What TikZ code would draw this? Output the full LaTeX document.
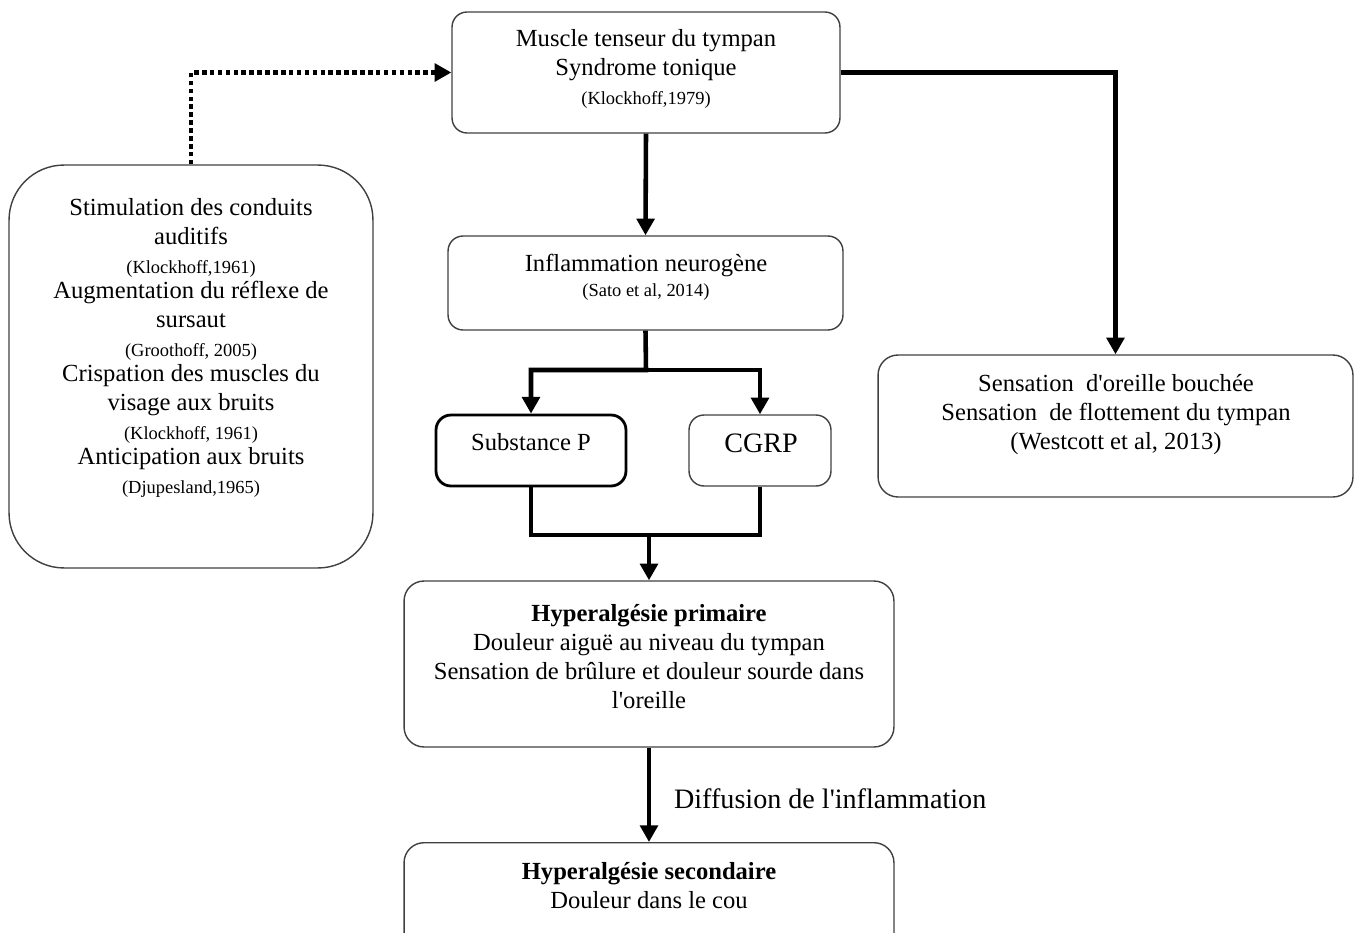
\documentclass[tikz,border=0pt]{standalone}
\usepackage{fontspec}
\setmainfont{Liberation Serif}
\usetikzlibrary{arrows.meta}
\newcommand{\cit}[1]{{\fontsize{10.5}{12}\selectfont #1}}
\newcommand{\apos}{\textquotesingle}
\tikzset{
  box/.style={draw=black!75, line width=0.8pt, rounded corners=0.3cm},
  txt/.style={align=center, inner sep=0pt, font=\fontsize{14}{16.5}\selectfont},
  flow/.style={line width=2.6pt, -{Triangle[width=10pt,length=9.5pt]}},
  link/.style={line width=2.6pt},
  dotflow/.style={flow, dash pattern=on 2.6pt off 1.9pt},
}
\begin{document}
\begin{tikzpicture}[x=0.02cm, y=-0.02cm]
% page frame
\path[use as bounding box, clip] (0,0) rectangle (1356,933);

% boxes
\node[box, minimum width=7.76cm, minimum height=2.42cm] (muscle) at (646,72.5) {};
\node[box, rounded corners=1.1cm, minimum width=7.28cm, minimum height=8.06cm] (stim) at (191,366.5) {};
\node[box, minimum width=7.9cm, minimum height=1.88cm] (inflam) at (645.5,283) {};
\node[box, draw=black, line width=1.6pt, minimum width=3.8cm, minimum height=1.42cm] (subp) at (531,450.5) {};
\node[box, minimum width=2.84cm, minimum height=1.42cm] (cgrp) at (760,450.5) {};
\node[box, rounded corners=0.4cm, minimum width=9.5cm, minimum height=2.84cm] (sens) at (1115.5,426) {};
\node[box, rounded corners=0.4cm, minimum width=9.8cm, minimum height=3.32cm] (prim) at (649,664) {};
\node[box, rounded corners=0.4cm, minimum width=9.8cm, minimum height=2.4cm, anchor=north] (sec) at (649,842) {};

% texts
\node[txt] (muscleT) at (646,69) {Muscle tenseur du tympan\\ Syndrome tonique\\ \cit{(Klockhoff,1979)}};
\node[txt] (stimT) at (191,348) {Stimulation des conduits\\ auditifs\\ \cit{(Klockhoff,1961)}\\[-2.3pt]
  Augmentation du réflexe de\\ sursaut\\ \cit{(Groothoff, 2005)}\\[-2.3pt]
  Crispation des muscles du\\ visage aux bruits\\ \cit{(Klockhoff, 1961)}\\[-2.3pt]
  Anticipation aux bruits\\ \cit{(Djupesland,1965)}};
\node[txt] (inflamT) at (646,277) {Inflammation neurogène\\[-2.3pt] \cit{(Sato et al, 2014)}};
\node[txt] (subpT) at (531,442) {Substance P};
\node[txt, font=\fontsize{16}{19}\selectfont] (cgrpT) at (761,443) {CGRP};
\node[txt] (sensT) at (1116,415) {Sensation~ d\apos oreille bouchée\\ Sensation~ de flottement du tympan\\ (Westcott et al, 2013)};
\node[txt] (primT) at (649,657) {\textbf{Hyperalgésie primaire}\\ Douleur aiguë au niveau du tympan\\ Sensation de brûlure et douleur sourde dans\\ l\apos oreille};
\node[txt] (secT) at (649,886) {\textbf{Hyperalgésie secondaire}\\ Douleur dans le cou};

% connectors
\coordinate (split) at (646,370);
\coordinate (merge) at (649,535);
\draw[dotflow] (stim.north) |- (muscle.west);
\draw[flow] (muscle.south) -- (inflam.north);
\draw[flow] (muscle.east) -| (sens.north);
\draw[flow] (inflam.south) -- (split) -| (subp.north);
\draw[flow] (split) -| (cgrp.north);
\draw[link] (subp.south) |- (merge) -| (cgrp.south);
\draw[flow] (merge) -- (prim.north);
\draw[flow] (prim.south) -- node[anchor=west, xshift=13pt, yshift=-2pt, inner sep=0pt, font=\fontsize{16}{19}\selectfont] (diffT) {Diffusion de l\apos inflammation} (sec.north);
\end{tikzpicture}
\end{document}
